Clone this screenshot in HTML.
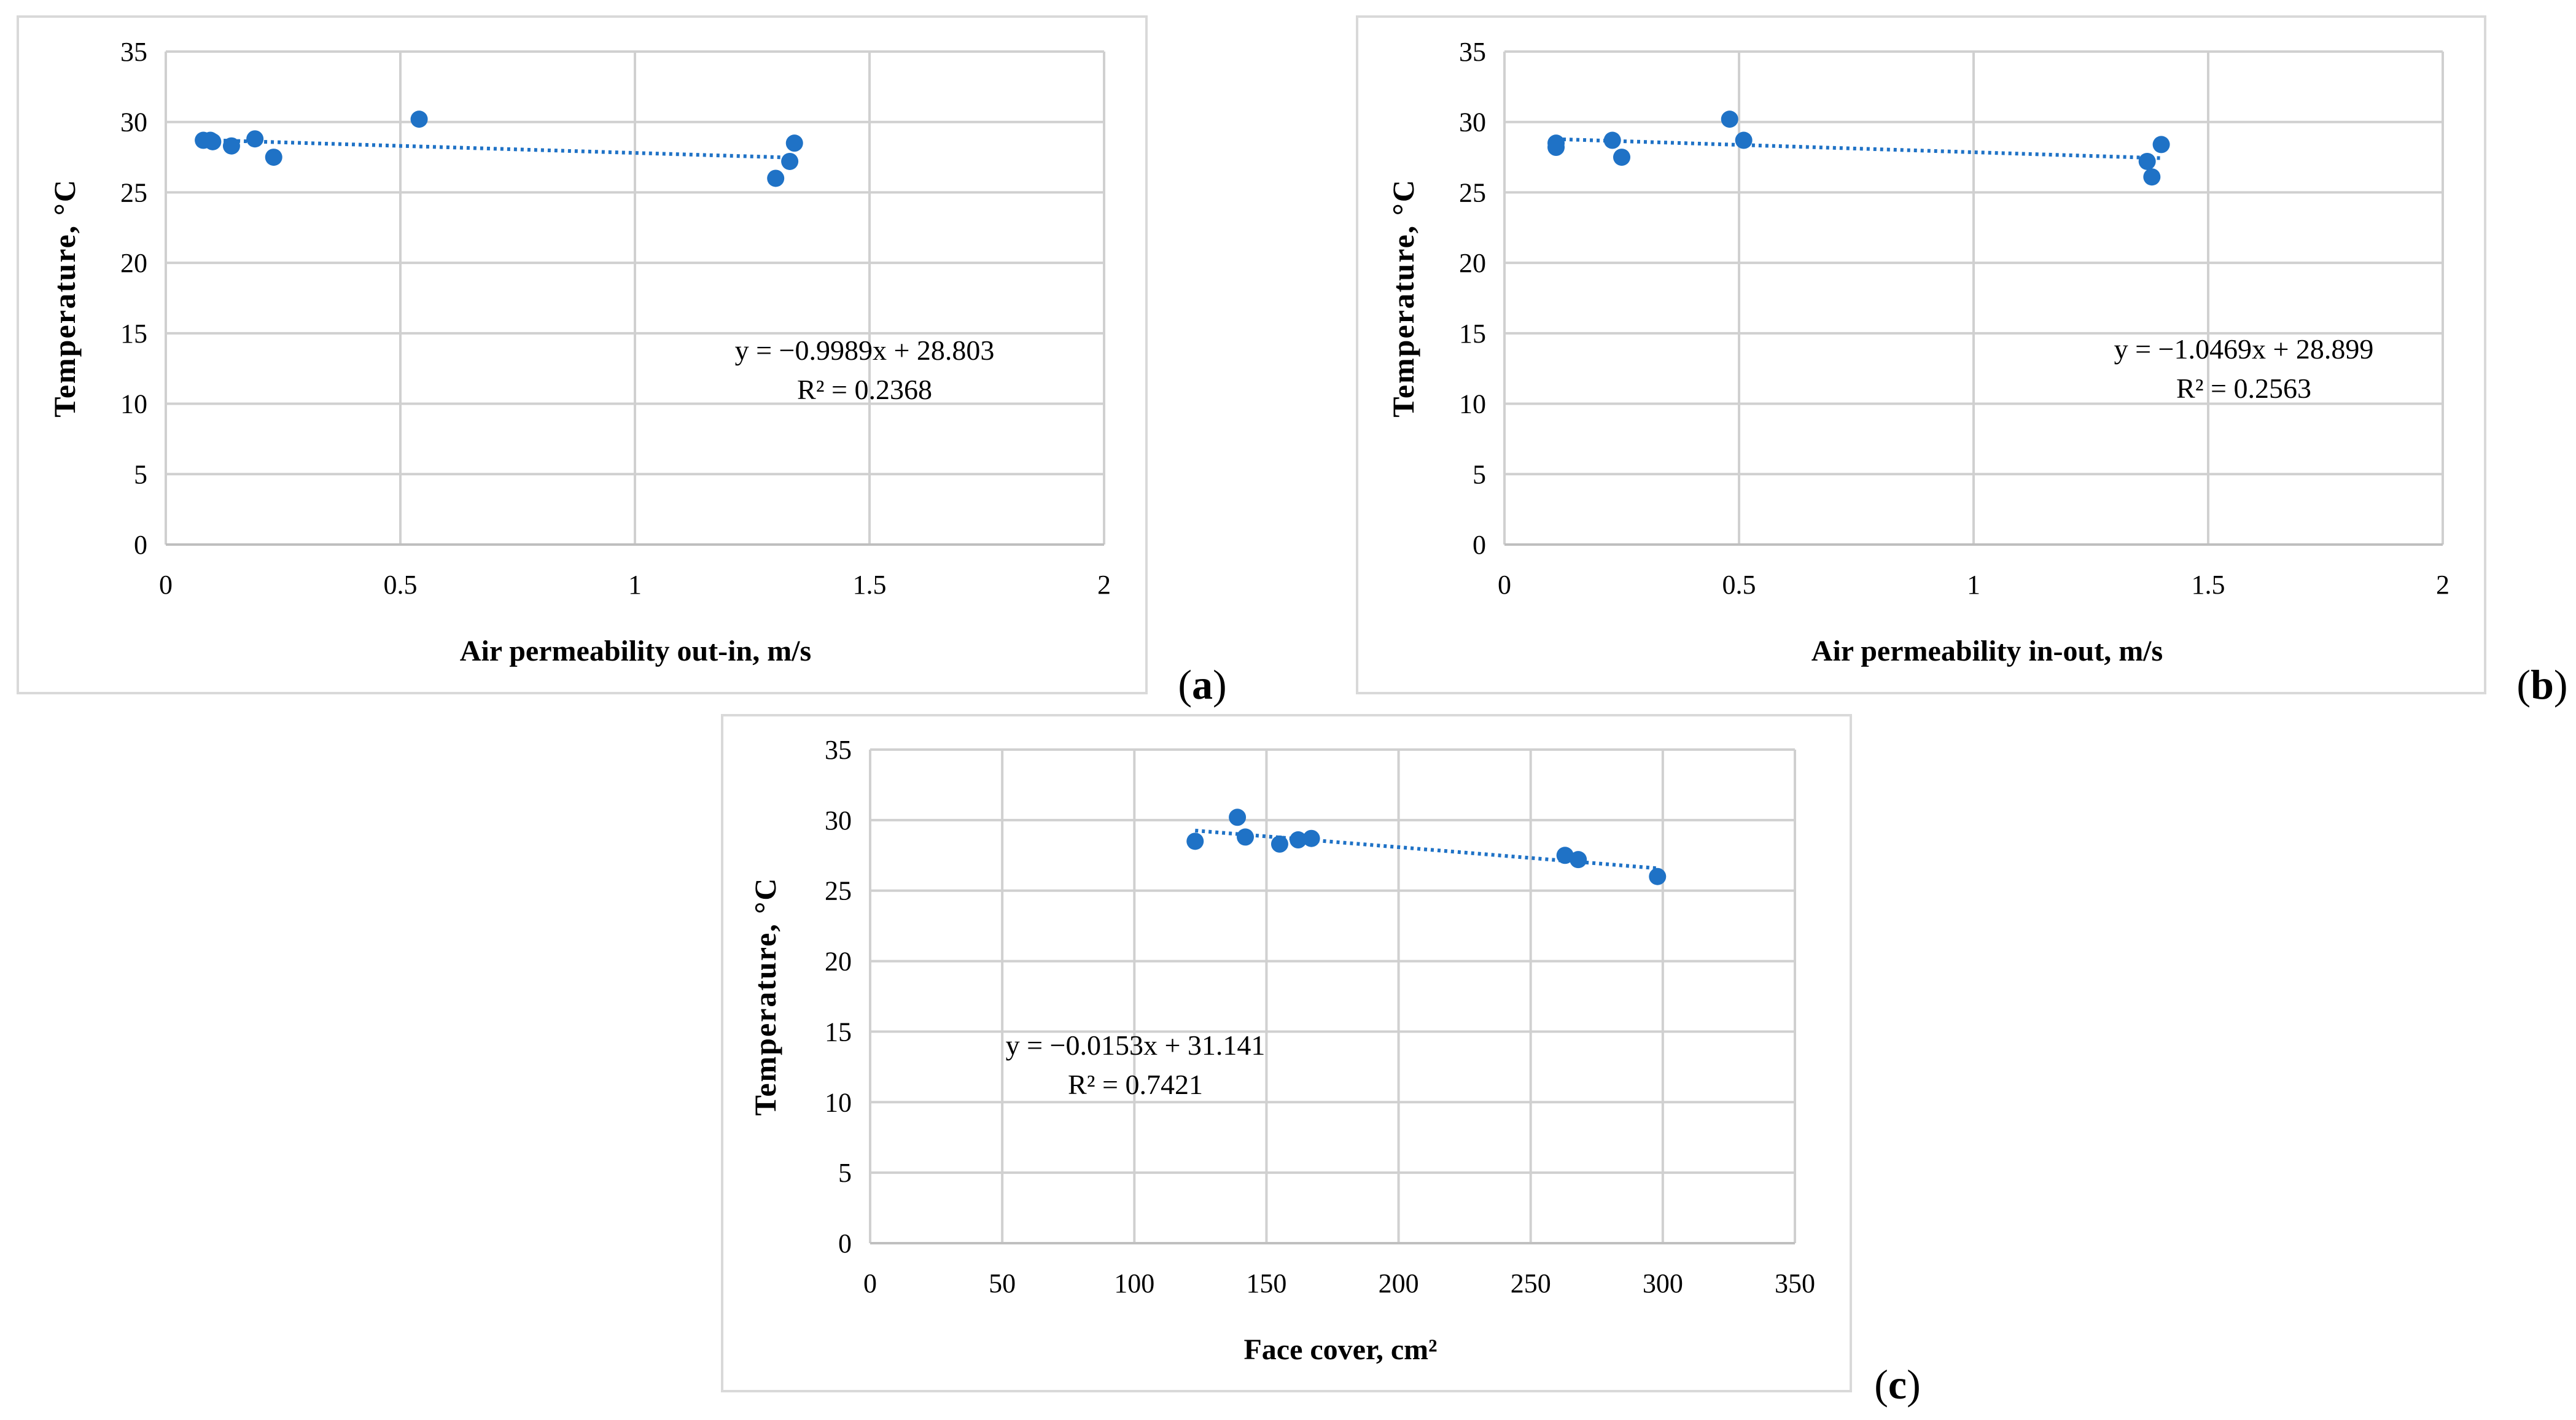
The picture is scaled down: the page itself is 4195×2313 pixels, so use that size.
<!DOCTYPE html>
<html><head><meta charset="utf-8"><style>
html,body{margin:0;padding:0;background:#fff;}
svg{display:block;font-family:"Liberation Serif",serif;}
</style></head><body>
<svg id="s" width="4195" height="2313" viewBox="0 0 4195 2313" xmlns="http://www.w3.org/2000/svg"></svg>
<script>
const aX=[0.08,0.095,0.10,0.14,0.19,0.23,0.54,1.30,1.33,1.34];
const aY=[28.7,28.7,28.6,28.3,28.8,27.5,30.2,26.0,27.2,28.5];
const bX=[0.11,0.11,0.23,0.25,0.48,0.51,1.37,1.38,1.40];
const bY=[28.5,28.2,28.7,27.5,30.2,28.7,27.2,26.1,28.4];
const cX=[123,139,142,155,162,167,263,268,298];
const cY=[28.5,30.2,28.8,28.3,28.6,28.7,27.5,27.2,26.0];
const yTicks=[0,5,10,15,20,25,30,35];
const abTicks=[0,0.5,1,1.5,2];
const abLabels=["0","0.5","1","1.5","2"];
const cTicks=[0,50,100,150,200,250,300,350];
const aTrend=[-0.9989,28.803];
const bTrend=[-1.0469,28.899];
const cTrend=[-0.0153,31.141];
const NS="http://www.w3.org/2000/svg";
const svg=document.getElementById('s');
function mk(tag,attrs,parent){const e=document.createElementNS(NS,tag);for(const k in attrs)e.setAttribute(k,attrs[k]);(parent||svg).appendChild(e);return e;}
function chart(o){
  const g=mk('g',{});
  
  
  const fr=mk('rect',{x:o.fx,y:o.fy,width:o.fw,height:o.fh,fill:'#fff',stroke:'#d9d9d9','stroke-width':4},g);
  
  
  const xs=v=>o.px0+(v-o.xmin)/(o.xmax-o.xmin)*(o.px1-o.px0);
  const ys=v=>o.py0-(v/35)*(o.py0-o.py1);
  yTicks.forEach(t=>{
    const l=mk('line',{x1:o.px0,x2:o.px1,y1:ys(t),y2:ys(t),stroke:'#d0d0d0','stroke-width':4},g);
    
    
    const tx=mk('text',{x:o.px0-30,y:ys(t)+15,'text-anchor':'end','font-size':44,fill:'#000'},g);
    tx.textContent=t;
    
    
  });
  o.ticks.forEach((t,i)=>{
    const l=mk('line',{x1:xs(t),x2:xs(t),y1:o.py1,y2:o.py0,stroke:'#d0d0d0','stroke-width':4},g);
    
    
    const tx=mk('text',{x:xs(t),y:o.py0+80,'text-anchor':'middle','font-size':44,fill:'#000'},g);
    tx.textContent=o.labels[i];
    
    
  });
  const ax=mk('line',{x1:o.px0,x2:o.px1,y1:o.py0,y2:o.py0,stroke:'#bfbfbf','stroke-width':4},g);
  
  
  const xmn=Math.min(...o.X),xmx=Math.max(...o.X);
  const tl=mk('line',{x1:xs(xmn),y1:ys(o.tr[0]*xmn+o.tr[1]),x2:xs(xmx),y2:ys(o.tr[0]*xmx+o.tr[1]),stroke:'#1f72c6','stroke-width':6,'stroke-dasharray':'5 6'},g);
  
  
  o.X.forEach((x,i)=>{
    const c=mk('circle',{cx:xs(x),cy:ys(o.Y[i]),r:14,fill:'#1f72c6'},g);
    
    
  });
  const e1=mk('text',{x:o.ex,y:o.ey,'text-anchor':'middle','font-size':46,fill:'#000'},g);
  e1.textContent=o.eq;
  
  
  const e2=mk('text',{x:o.ex,y:o.ey+64,'text-anchor':'middle','font-size':46,fill:'#000'},g);
  e2.textContent=o.r2;
  
  
  const xt=mk('text',{x:o.xtx,y:o.xty,'text-anchor':'middle','font-size':48,'font-weight':'bold',fill:'#000'},g);
  xt.textContent=o.xtitle;
  
  
  const yt=mk('text',{x:0,y:0,'text-anchor':'middle','font-size':50,'font-weight':'bold','letter-spacing':2,fill:'#000',transform:`translate(${o.ytx},${(o.py0+o.py1)/2}) rotate(-90)`},g);
  yt.textContent='Temperature, °C';
  
  
  const pl=mk('text',{x:o.lx,y:o.ly,'text-anchor':'middle','font-size':68,fill:'#000'},g);
  pl.innerHTML=o.lab;
  
  
}
chart({id:'a',fx:29,fy:27,fw:1838,fh:1102,px0:270,px1:1798,py0:887,py1:84,xmin:0,xmax:2,ticks:abTicks,labels:abLabels,X:aX,Y:aY,tr:aTrend,eq:'y = −0.9989x + 28.803',r2:'R² = 0.2368',ex:1408,ey:586,xtitle:'Air permeability out-in, m/s',xtx:1035,xty:1076,ytx:122,lx:1958,ly:1138,lab:'(<tspan font-weight="bold">a</tspan>)'});
chart({id:'b',fx:2210,fy:27,fw:1837,fh:1102,px0:2450,px1:3978,py0:887,py1:84,xmin:0,xmax:2,ticks:abTicks,labels:abLabels,X:bX,Y:bY,tr:bTrend,eq:'y = −1.0469x + 28.899',r2:'R² = 0.2563',ex:3654,ey:584,xtitle:'Air permeability in-out, m/s',xtx:3236,xty:1076,ytx:2302,lx:4140,ly:1138,lab:'(<tspan font-weight="bold">b</tspan>)'});
chart({id:'c',fx:1176,fy:1165,fw:1838,fh:1101,px0:1417,px1:2923,py0:2025,py1:1221,xmin:0,xmax:350,ticks:cTicks,labels:cTicks.map(String),X:cX,Y:cY,tr:cTrend,eq:'y = −0.0153x + 31.141',r2:'R² = 0.7421',ex:1849,ey:1718,xtitle:'Face cover, cm²',xtx:2183,xty:2214,ytx:1263,lx:3090,ly:2278,lab:'(<tspan font-weight="bold">c</tspan>)'});
</script>
</body></html>
